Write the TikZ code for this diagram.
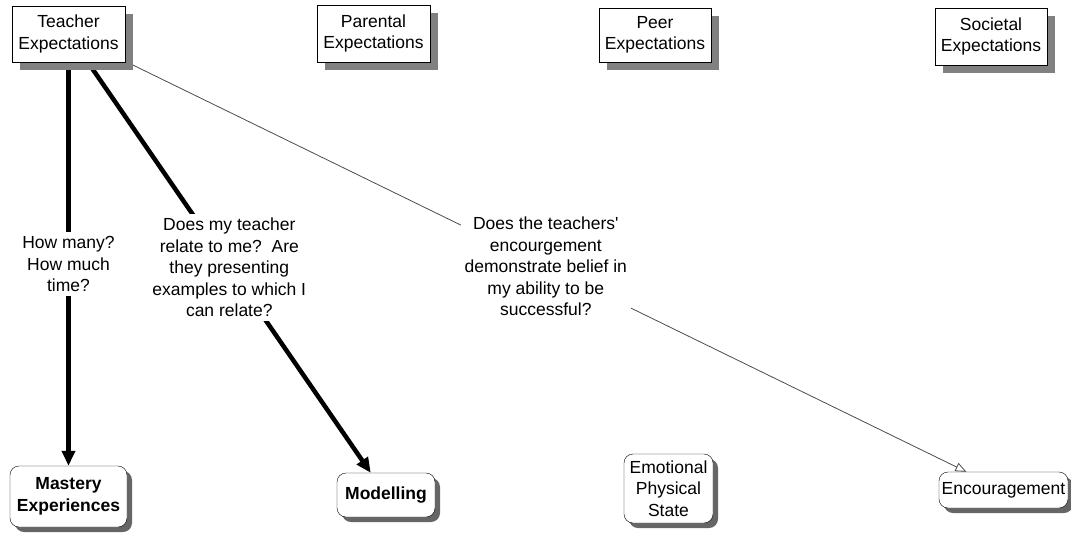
\documentclass[tikz,border=0pt]{standalone}
\usepackage{fontspec}
\setmainfont{Liberation Sans}
\usetikzlibrary{arrows.meta,shadows,backgrounds}

\begin{document}
\begin{tikzpicture}[x=1pt, y=-1pt,
    every node/.style={font=\fontsize{17.5}{21.5}\selectfont, align=center},
    expbox/.style={draw=black, fill=white, rectangle, inner sep=2pt, drop shadow={shadow xshift=8pt, shadow yshift=-8pt, fill=gray, opacity=1}},
    outcome/.style={draw=black, fill=white, rectangle, rounded corners=9pt, inner sep=2pt, drop shadow={shadow xshift=5pt, shadow yshift=-5pt, fill=black!60, opacity=1}},
    question/.style={fill=white, text=black, inner sep=4pt},
    strong/.style={draw, line width=4.5pt, -{Triangle[length=15pt, width=13pt]}},
    weak/.style={draw, line width=0.8pt, black!70, -{Triangle[open, length=11pt, width=9pt, line width=0.8pt]}}]
    \useasboundingbox (0,0) rectangle (1071,533);

    % Sources of expectation
    \node [expbox, minimum width=113pt, minimum height=56pt] (teacher) at (68.5,34) {Teacher\\Expectations};
    \node [expbox, minimum width=113pt, minimum height=57pt] (parental) at (373.5,33.5) {Parental\\Expectations};
    \node [expbox, minimum width=112pt, minimum height=54pt] (peer) at (655,35) {Peer\\Expectations};
    \node [expbox, minimum width=112pt, minimum height=57pt] (societal) at (991,36.5) {Societal\\Expectations};

    % Sources of efficacy
    \node [outcome, minimum width=117pt, minimum height=61pt, font=\fontsize{17.5}{21.5}\selectfont\bfseries] (mastery) at (68.5,496.5) {Mastery\\Experiences};
    \node [outcome, minimum width=98pt, minimum height=44pt, font=\fontsize{17.5}{21.5}\selectfont\bfseries] (modelling) at (386,495) {Modelling};
    \node [outcome, minimum width=89pt, minimum height=69pt] (emotional) at (668.5,488.5) {Emotional\\Physical\\State};
    \node [outcome, minimum width=129pt, minimum height=36pt] (encouragement) at (1003.5,490) {Encouragement};

    % Paths
    \begin{scope}[on background layer]
        \path [strong] (teacher) -- node [question] {How many?\\How much\\time?} (mastery);
        \path [strong] (teacher) -- node [question] {Does my teacher\\relate to me?~~Are\\they presenting\\examples to which I\\can relate?} (modelling);
        \path [weak] (teacher) -- node [question] {Does the teachers\textquotesingle\\encourgement\\demonstrate belief in\\my ability to be\\successful?} (encouragement);
    \end{scope}
\end{tikzpicture}
\end{document}
